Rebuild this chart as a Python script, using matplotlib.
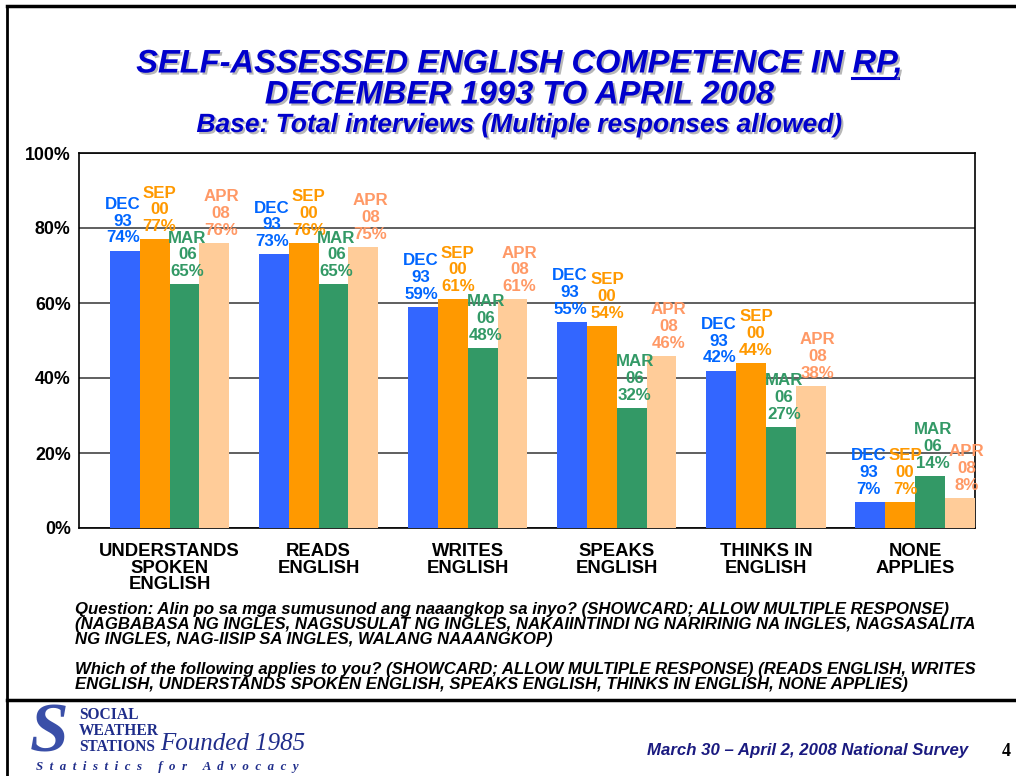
import matplotlib
matplotlib.use("Agg")
import matplotlib.pyplot as plt
import matplotlib.patheffects as pe
from matplotlib import font_manager
import numpy as np

categories = ["UNDERSTANDS\nSPOKEN\nENGLISH", "READS\nENGLISH", "WRITES\nENGLISH",
              "SPEAKS\nENGLISH", "THINKS IN\nENGLISH", "NONE\nAPPLIES"]
series_names = ["DEC\n93", "SEP\n00", "MAR\n06", "APR\n08"]
dec93 = [74, 73, 59, 55, 42, 7]
sep00 = [77, 76, 61, 54, 44, 7]
mar06 = [65, 65, 48, 32, 27, 14]
apr08 = [76, 75, 61, 46, 38, 8]
yticks = [0, 20, 40, 60, 80, 100]

bar_colors = ["#3366FF", "#FF9900", "#339966", "#FFCC99"]
label_colors = ["#0066FF", "#FF9900", "#339966", "#FF9966"]
label_nudge = [-2, 5, 3, 7]  # px, labels sit a bit right of their bars like in the slide

W, H = 1016, 776
fig = plt.figure(figsize=(W / 100, H / 100), dpi=100)
plt.rcParams['font.family'] = ['Liberation Sans', 'DejaVu Sans']

names = {f.name for f in font_manager.fontManager.ttflist}
narrow = 'Liberation Sans Narrow' if 'Liberation Sans Narrow' in names else 'Liberation Sans'


def fx(x):
    return x / W


def fy(y):
    return 1 - y / H


# page frame
fig.add_artist(plt.Line2D([fx(7), 1], [fy(6), fy(6)], color='black', lw=2.5))
fig.add_artist(plt.Line2D([fx(7), fx(7)], [fy(6), 0], color='black', lw=2))
fig.add_artist(plt.Line2D([fx(7), 1], [fy(700), fy(700)], color='black', lw=2.5))

# titles
title_col = '#0000CC'
tx = fx(519)
shadow = [pe.withSimplePatchShadow(offset=(1.5, -1.5), shadow_rgbFace='#888888', alpha=0.6)]
t1 = fig.text(tx, fy(64), "SELF-ASSESSED ENGLISH COMPETENCE IN RP,", ha='center', va='center',
              fontsize=23.5, fontweight='bold', fontstyle='italic', color=title_col, path_effects=shadow)
fig.text(tx, fy(95), "DECEMBER 1993 TO APRIL 2008", ha='center', va='center',
         fontsize=23.5, fontweight='bold', fontstyle='italic', color=title_col, path_effects=shadow)
fig.text(tx, fy(125), "Base: Total interviews (Multiple responses allowed)", ha='center', va='center',
         fontsize=19, fontweight='bold', fontstyle='italic', color=title_col, path_effects=shadow)

# underline "RP,"
fig.canvas.draw()
r = fig.canvas.get_renderer()
bb = t1.get_window_extent(r)
tmp = fig.text(0, 0, "RP,", fontsize=23.5, fontweight='bold', fontstyle='italic')
wrp = tmp.get_window_extent(r).width
tmp.remove()
fig.add_artist(plt.Line2D([(bb.x1 - wrp) / W, (bb.x1 - 4) / W], [fy(78), fy(78)], color=title_col, lw=2.2))

# chart
ax = fig.add_axes([fx(79), fy(528), (975 - 79) / W, (528 - 153) / H])
x = np.arange(len(categories))
w = 0.2
all_series = [dec93, sep00, mar06, apr08]
for i, vals in enumerate(all_series):
    xs = x + (i - 1.5) * w
    ax.bar(xs, vals, width=w, color=bar_colors[i], zorder=3)
    for xx, v in zip(xs, vals):
        ax.annotate(series_names[i] + "\n" + str(v) + "%", (xx, v), xytext=(label_nudge[i], 5),
                    textcoords='offset pixels', ha='center', va='bottom',
                    fontsize=12.2, fontweight='bold', color=label_colors[i],
                    linespacing=1.15, zorder=4)

ax.set_xlim(-0.607, 5.402)
ax.set_ylim(0, 100)
ax.set_yticks(yticks)
ax.set_yticklabels([str(t) + "%" for t in yticks], fontsize=12.8, fontweight='bold')
ax.set_xticks(x)
ax.set_xticklabels(categories, fontsize=13.3, fontweight='bold', linespacing=0.97)
ax.tick_params(axis='y', length=0, pad=6)
ax.tick_params(axis='x', length=0, pad=11)
ax.yaxis.grid(True, color='#444444', lw=1.2, zorder=0)
for s in ax.spines.values():
    s.set_color('black')
    s.set_linewidth(1.2)

# question text
qfont = dict(fontsize=12.1, fontweight='bold', fontstyle='italic', family=[narrow, 'DejaVu Sans'],
             color='black', va='top', ha='left', linespacing=0.98)
fig.text(fx(75), fy(602),
         "Question: Alin po sa mga sumusunod ang naaangkop sa inyo? (SHOWCARD; ALLOW MULTIPLE RESPONSE)\n"
         "(NAGBABASA NG INGLES, NAGSUSULAT NG INGLES, NAKAIINTINDI NG NARIRINIG NA INGLES, NAGSASALITA\n"
         "NG INGLES, NAG-IISIP SA INGLES, WALANG NAAANGKOP)", **qfont)
fig.text(fx(75), fy(662),
         "Which of the following applies to you? (SHOWCARD; ALLOW MULTIPLE RESPONSE) (READS ENGLISH, WRITES\n"
         "ENGLISH, UNDERSTANDS SPOKEN ENGLISH, SPEAKS ENGLISH, THINKS IN ENGLISH, NONE APPLIES)", **qfont)

# footer / logo
navy = '#1F2D8A'
fig.text(fx(30), fy(735), "S", fontsize=50, fontweight='bold', fontstyle='italic',
         family='Liberation Serif', color='#3A4FA8', ha='left', va='center')
fig.text(fx(79), fy(731), "SOCIAL\nWEATHER\nSTATIONS", fontsize=11.2, fontweight='bold',
         family='Liberation Serif', color=navy, ha='left', va='center', linespacing=0.98)
fig.text(fx(160), fy(744), "Founded 1985", fontsize=18, fontstyle='italic',
         family='Liberation Serif', color=navy, ha='left', va='center')
slogan = "  ".join("Statistics") + "     " + "  ".join("for") + "     " + "  ".join("Advocacy")
fig.text(fx(36), fy(767), slogan, fontsize=9.3, fontweight='bold', fontstyle='italic',
         family='Liberation Serif', color=navy, ha='left', va='center')
fig.text(fx(968), fy(750), "March 30 \u2013 April 2, 2008 National Survey", fontsize=12.1,
         fontweight='bold', fontstyle='italic', family=[narrow, 'DejaVu Sans'], color='#1A1A80',
         ha='right', va='center')
fig.text(fx(1006), fy(752), "4", fontsize=13, fontweight='bold', family='Liberation Serif',
         color='black', ha='center', va='center')

fig.savefig("out.png", dpi=100)
